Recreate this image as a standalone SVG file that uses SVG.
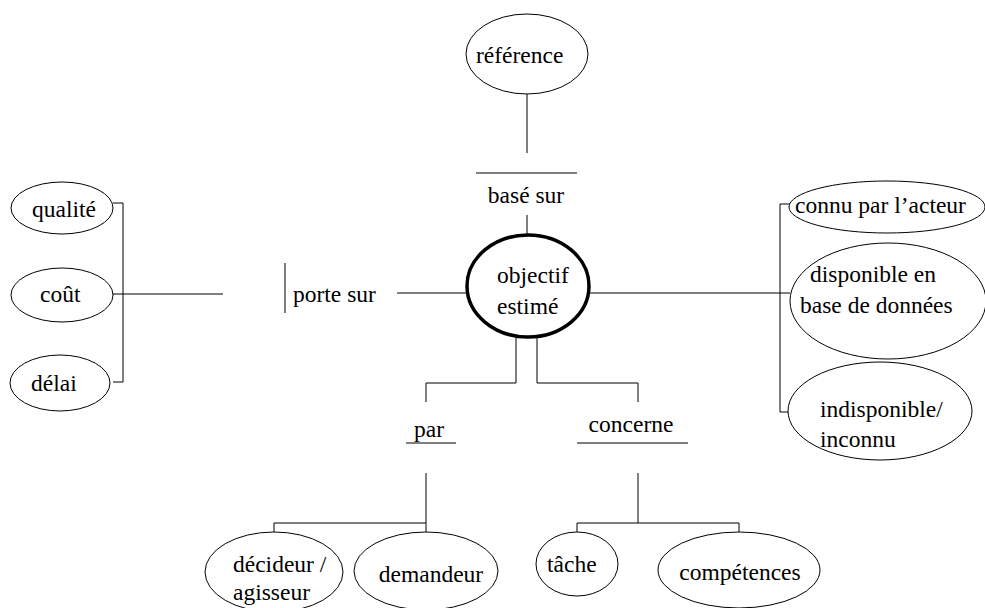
<svg xmlns="http://www.w3.org/2000/svg" width="985" height="608" viewBox="0 0 985 608">
<style>
.n{fill:#fff;stroke:#000;stroke-width:1}
.n.c{stroke-width:3.5}
.m{text-anchor:middle}
.l{fill:none;stroke:#000;stroke-width:1}
</style>
<rect width="985" height="608" fill="#fff"/>
<g id="connectors" class="l">
<path d="M527,93 V153"/>
<path d="M476,173 H577"/>
<path d="M527,215 V235"/>
<path d="M113,203 H123 V382 H113"/>
<path d="M113,294 H223"/>
<path d="M285,263 V313"/>
<path d="M397,293 H467"/>
<path d="M590,293 H790"/>
<path d="M790,204 H780 V412 H788"/>
<path d="M516,337 V383 H426 V402"/>
<path d="M537,337 V383 H638 V402"/>
<path d="M406,443 H456"/>
<path d="M577,443 H688"/>
<path d="M426,473 V532"/>
<path d="M426,523 H274 V532"/>
<path d="M638,473 V523"/>
<path d="M577,532 V523 H739 V532"/>
</g>
<g font-family="Liberation Serif, Times New Roman, serif" font-size="23.5" fill="#000">
<g id="reference"><ellipse class="n" cx="527" cy="54" rx="61" ry="40"/><text x="476" y="63">référence</text></g>
<g id="base-sur"><text class="m" x="526" y="203">basé sur</text></g>
<g id="objectif"><ellipse class="n c" cx="528" cy="286" rx="61" ry="51"/><text x="497" y="283">objectif</text><text x="497" y="314">estimé</text></g>
<g id="porte-sur"><text x="293" y="302">porte sur</text></g>
<g id="qualite"><ellipse class="n" cx="62" cy="208" rx="51" ry="26"/><text x="32" y="217">qualité</text></g>
<g id="cout"><ellipse class="n" cx="62" cy="295" rx="51" ry="27"/><text x="40" y="302">coût</text></g>
<g id="delai"><ellipse class="n" cx="60" cy="383" rx="50" ry="28"/><text x="31" y="391">délai</text></g>
<g id="connu"><ellipse class="n" cx="887" cy="207" rx="98" ry="26"/><text x="795" y="213">connu par l’acteur</text></g>
<g id="disponible"><ellipse class="n" cx="888" cy="301" rx="98" ry="58"/><text x="810" y="282">disponible en</text><text x="800" y="313">base de données</text></g>
<g id="indisponible"><ellipse class="n" cx="880" cy="411" rx="92" ry="49"/><text x="820" y="417">indisponible/</text><text x="820" y="447">inconnu</text></g>
<g id="par"><text class="m" x="429" y="437">par</text></g>
<g id="concerne"><text class="m" x="631" y="432">concerne</text></g>
<g id="decideur"><ellipse class="n" cx="274" cy="572" rx="69" ry="40"/><text x="233" y="572">décideur /</text><text x="233" y="600">agisseur</text></g>
<g id="demandeur"><ellipse class="n" cx="426" cy="571" rx="72" ry="39"/><text class="m" x="431" y="582">demandeur</text></g>
<g id="tache"><ellipse class="n" cx="577" cy="564" rx="41" ry="32"/><text x="547" y="572">tâche</text></g>
<g id="competences"><ellipse class="n" cx="739" cy="570" rx="81" ry="38"/><text class="m" x="740" y="580">compétences</text></g>
</g>
</svg>
